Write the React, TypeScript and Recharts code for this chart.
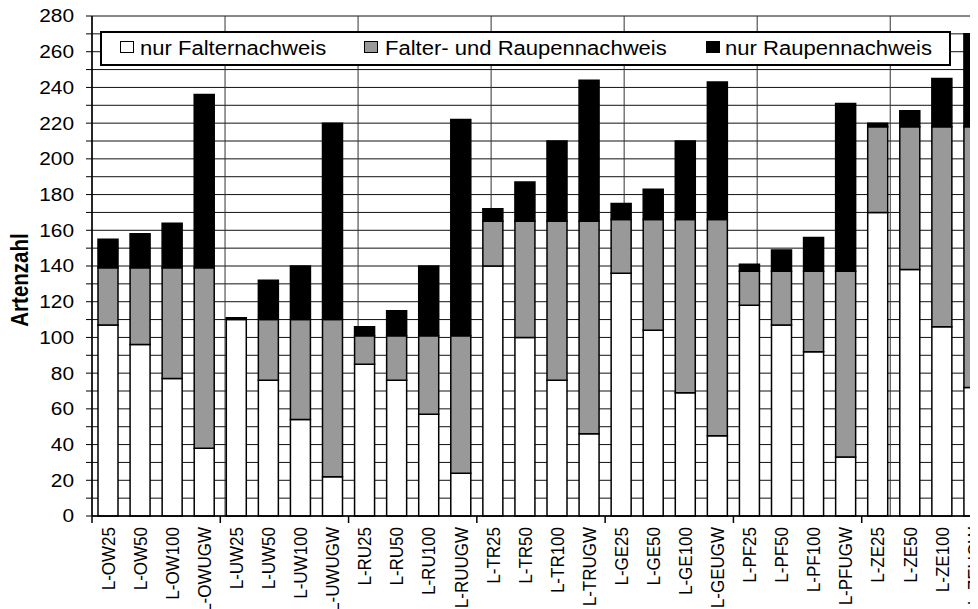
import React from 'react';
import { BarChart, Bar, XAxis, YAxis, CartesianGrid, Legend } from 'recharts';

const categories = [
  'L-OW25', 'L-OW50', 'L-OW100', 'L-OWUGW',
  'L-UW25', 'L-UW50', 'L-UW100', 'L-UWUGW',
  'L-RU25', 'L-RU50', 'L-RU100', 'L-RUUGW',
  'L-TR25', 'L-TR50', 'L-TR100', 'L-TRUGW',
  'L-GE25', 'L-GE50', 'L-GE100', 'L-GEUGW',
  'L-PF25', 'L-PF50', 'L-PF100', 'L-PFUGW',
  'L-ZE25', 'L-ZE50', 'L-ZE100', 'L-ZEUGW',
];

const seriesNames = ['nur Falternachweis', 'Falter- und Raupennachweis', 'nur Raupennachweis'];

const nurFalter = [
  107, 96, 77, 38,
  110, 76, 54, 22,
  85, 76, 57, 24,
  140, 100, 76, 46,
  136, 104, 69, 45,
  118, 107, 92, 33,
  170, 138, 106, 72,
];

const falterUndRaupe = [
  32, 43, 62, 101,
  0, 34, 56, 88,
  16, 25, 44, 77,
  25, 65, 89, 119,
  30, 62, 97, 121,
  19, 30, 45, 104,
  48, 80, 112, 146,
];

const nurRaupe = [
  16, 19, 25, 97,
  1, 22, 30, 110,
  5, 14, 39, 121,
  7, 22, 45, 79,
  9, 17, 44, 77,
  4, 12, 19, 94,
  2, 9, 27, 52,
];

const yTicks = [0, 10, 20, 30, 40, 50, 60, 70, 80, 90, 100, 110, 120, 130, 140, 150, 160, 170, 180, 190, 200, 210, 220, 230, 240, 250, 260, 270, 280];
const groupTicks = [0, 4, 8, 12, 16, 20, 24, 28];
const Y_MAX = 280;

const colors = ['#ffffff', '#999999', '#000000'];
const FONT = '"Liberation Sans", Arial, sans-serif';
const STRETCH = 1.13;
const X_TICK_MARGIN = 11;

const data = categories.map((name, i) => ({
  name,
  a: nurFalter[i],
  b: falterUndRaupe[i],
  c: nurRaupe[i],
}));

const horizontalGen = (args: any) => {
  const { yAxis, offset } = args || {};
  if (yAxis && typeof yAxis.scale === 'function') {
    return yTicks.map((v) => yAxis.scale(v));
  }
  return yTicks.map((v) => offset.top + offset.height * (1 - v / Y_MAX));
};

const XTick = (props: any) => {
  const { x, y, payload } = props;
  const index = props.index ?? payload?.index ?? 0;
  const off = payload?.offset ?? 16;
  const axisY = y - X_TICK_MARGIN;
  return (
    <g>
      {index % 4 === 0 && (
        <line x1={x - off} x2={x - off} y1={axisY} y2={axisY + 7} stroke="#000" strokeWidth={1.5} />
      )}
      <text
        transform={`translate(${x},${y}) scale(${STRETCH},1) rotate(-90)`}
        textAnchor="end"
        dy="0.35em"
        fontSize={17}
        fontFamily={FONT}
        fill="#000"
      >
        {payload.value}
      </text>
    </g>
  );
};

const YTick = (props: any) => {
  const { x, y, payload } = props;
  if (payload.value % 20 !== 0) return <g />;
  return (
    <text
      transform={`translate(${x},${y}) scale(${STRETCH},1)`}
      textAnchor="end"
      dy="0.35em"
      fontSize={18.5}
      fontFamily={FONT}
      fill="#000"
    >
      {payload.value}
    </text>
  );
};

const legendPos = [
  { icon: 18, text: 38 },
  { icon: 262, text: 283 },
  { icon: 604, text: 623 },
];

const LegendBox = () => (
  <div
    style={{
      position: 'relative',
      boxSizing: 'border-box',
      width: 851,
      height: 35,
      border: '2px solid #000',
      background: '#fff',
      fontFamily: FONT,
    }}
  >
    {seriesNames.map((n, i) => (
      <React.Fragment key={n}>
        <div
          style={{
            position: 'absolute',
            left: legendPos[i].icon,
            top: 8,
            width: 14,
            height: 12,
            boxSizing: 'border-box',
            border: '1.5px solid #000',
            background: colors[i],
          }}
        />
        <div
          style={{
            position: 'absolute',
            left: legendPos[i].text,
            top: 0,
            height: 31,
            display: 'flex',
            alignItems: 'center',
            fontSize: 19.5,
            lineHeight: 1,
            whiteSpace: 'nowrap',
            transform: `scaleX(${STRETCH})`,
            transformOrigin: 'left center',
            color: '#000',
          }}
        >
          {n}
        </div>
      </React.Fragment>
    ))}
  </div>
);

const YLabel = (props: any) => {
  const vb = props.viewBox || { x: 0, y: 8, width: 84, height: 500 };
  const cy = vb.y + vb.height / 2 + 14;
  return (
    <text
      transform={`translate(12,${cy}) scale(${STRETCH},1) rotate(-90)`}
      textAnchor="middle"
      dy="0.35em"
      fontSize={20.5}
      fontWeight="bold"
      fontFamily={FONT}
      fill="#000"
    >
      Artenzahl
    </text>
  );
};

export default function App() {
  return (
    <div style={{ width: 970, height: 601, overflow: 'hidden', position: 'relative' }}>
      <BarChart
        width={990}
        height={620}
        data={data}
        margin={{ top: 8, right: 8, bottom: 0, left: 0 }}
        barSize={20}
      >
        <CartesianGrid
          horizontal={true}
          vertical={false}
          horizontalCoordinatesGenerator={horizontalGen}
          stroke="#111"
          strokeWidth={1}
        />
        <CartesianGrid xAxisId="grp" horizontal={false} vertical={true} stroke="#333" strokeWidth={1} />
        <XAxis
          dataKey="name"
          interval={0}
          height={112}
          tickLine={false}
          tickSize={0}
          tickMargin={X_TICK_MARGIN}
          tick={<XTick />}
          axisLine={{ stroke: '#000', strokeWidth: 1.5 }}
        />
        <XAxis xAxisId="grp" type="number" domain={[0, 28]} ticks={groupTicks} hide />
        <YAxis
          width={84}
          domain={[0, Y_MAX]}
          ticks={yTicks}
          interval={0}
          tickSize={6}
          tickMargin={12}
          tick={<YTick />}
          tickLine={{ stroke: '#000', strokeWidth: 1 }}
          axisLine={{ stroke: '#000', strokeWidth: 1.5 }}
          label={<YLabel />}
        />
        <Legend
          layout="horizontal"
          verticalAlign="middle"
          align="center"
          wrapperStyle={{ top: 23, left: 92, width: 851, height: 35 }}
          content={<LegendBox />}
        />
        <Bar dataKey="a" name={seriesNames[0]} stackId="s" fill={colors[0]} stroke="#000" strokeWidth={1.5} isAnimationActive={false} />
        <Bar dataKey="b" name={seriesNames[1]} stackId="s" fill={colors[1]} stroke="#000" strokeWidth={1.5} isAnimationActive={false} />
        <Bar dataKey="c" name={seriesNames[2]} stackId="s" fill={colors[2]} stroke="#000" strokeWidth={1.5} isAnimationActive={false} />
      </BarChart>
    </div>
  );
}
